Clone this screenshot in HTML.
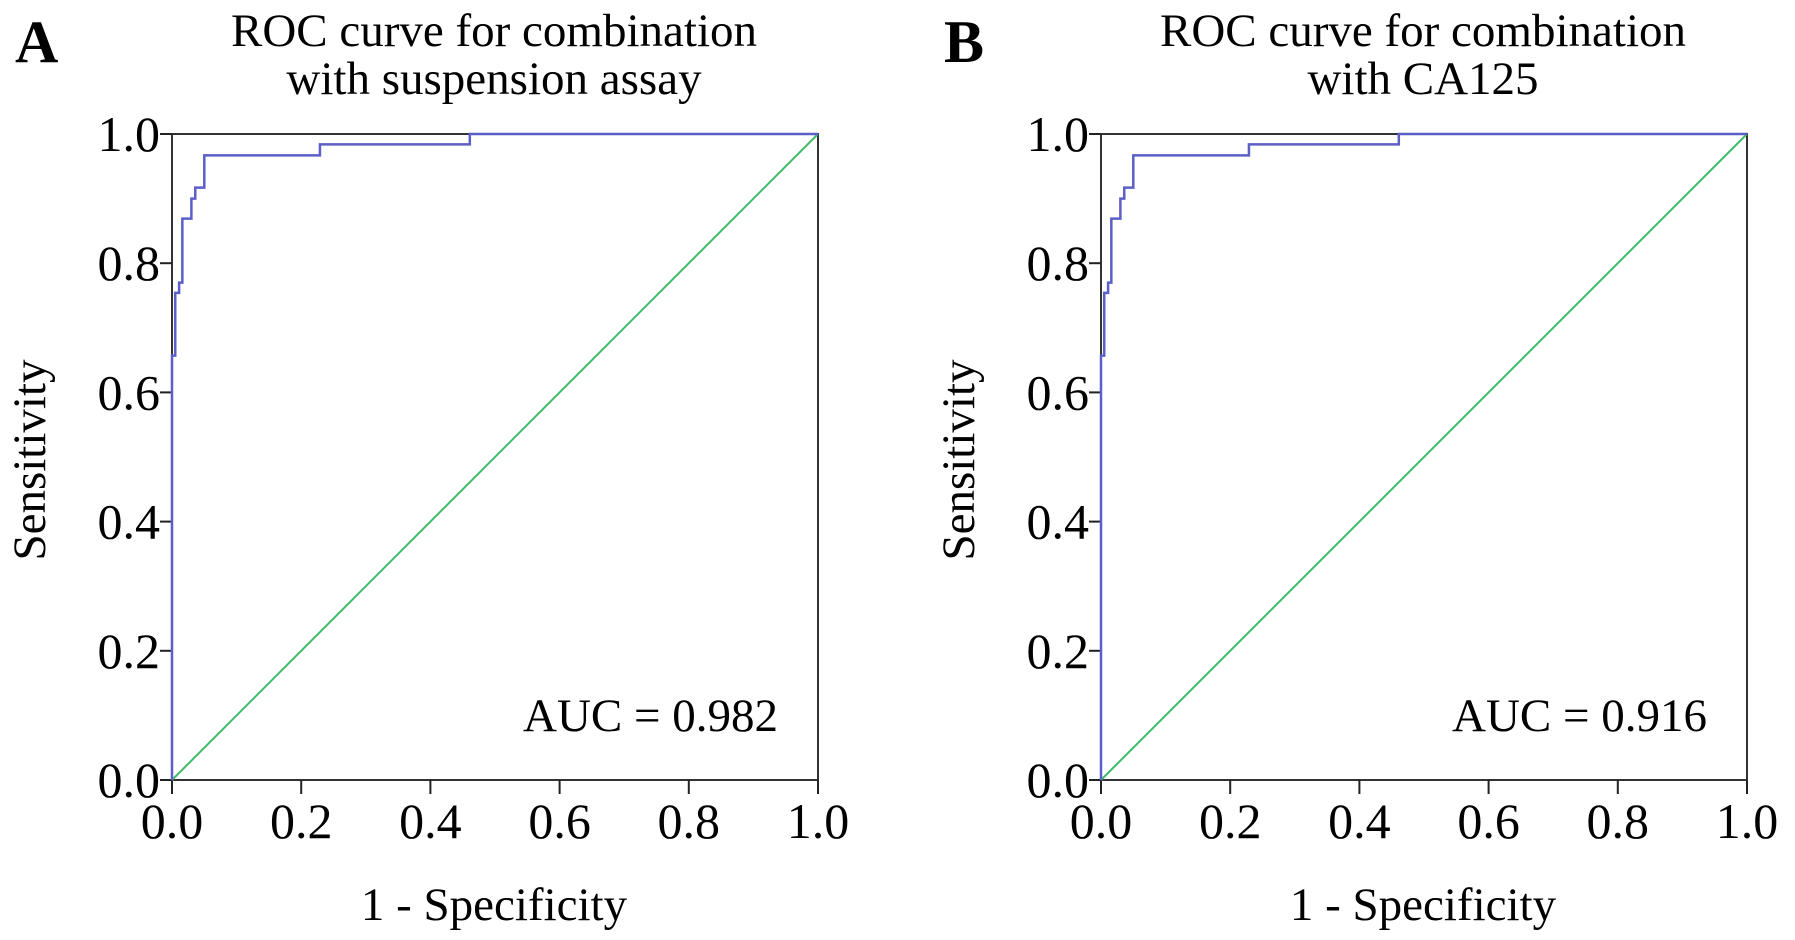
<!DOCTYPE html>
<html><head><meta charset="utf-8"><style>
body{margin:0;background:#fff;}
svg{display:block;font-family:"Liberation Serif",serif;}
</style></head><body>
<svg id="fig" width="1795" height="940" viewBox="0 0 1795 940"></svg>
<script>
const fprA = [0,0,0.005,0.005,0.011,0.011,0.016,0.016,0.030,0.030,0.036,0.036,0.050,0.050,0.229,0.229,0.461,0.461,1];
const tprA = [0,0.657,0.657,0.754,0.754,0.770,0.770,0.869,0.869,0.900,0.900,0.917,0.917,0.967,0.967,0.984,0.984,1,1];
const fprB = [0,0,0.005,0.005,0.011,0.011,0.016,0.016,0.030,0.030,0.036,0.036,0.050,0.050,0.229,0.229,0.461,0.461,1];
const tprB = [0,0.657,0.657,0.754,0.754,0.770,0.770,0.869,0.869,0.900,0.900,0.917,0.917,0.967,0.967,0.984,0.984,1,1];
const ticks = [0,0.2,0.4,0.6,0.8,1.0];
const tickLabels = ["0.0","0.2","0.4","0.6","0.8","1.0"];
const aucA = "AUC = 0.982";
const aucB = "AUC = 0.916";

const svg = document.getElementById('fig');
const NS = 'http://www.w3.org/2000/svg';
function mk(tag, attrs, parent){
  const e = document.createElementNS(NS, tag);
  for (const k in attrs) e.setAttribute(k, attrs[k]);
  (parent||svg).appendChild(e);
  return e;
}
function panel(id, x0, letter, t1, t2, fpr, tpr, auc){
  const top = 134, size = 646, bottom = top+size, x1 = x0+size;
  const sx = v => x0 + v*size;
  const sy = v => bottom - v*size;
  const g = mk('g', {});
  
  
  const L = mk('text', {x: x0-157, y: 62, 'font-size': 60, 'font-weight': 'bold'}, g);
  L.textContent = letter;
  
  
  [t1,t2].forEach((t,i)=>{
    const e = mk('text', {x: x0+size/2-1, y: 46+i*48, 'font-size': 47, 'text-anchor': 'middle'}, g);
    e.textContent = t;
    
    
  });
  const frame = mk('rect', {x: x0, y: top, width: size, height: size, fill: 'none', stroke: '#333', 'stroke-width': 2}, g);
  
  
  ticks.forEach((t,i)=>{
    const ty = mk('line', {x1: x0-12, x2: x0, y1: sy(t), y2: sy(t), stroke: '#222', 'stroke-width': 2}, g);
    
    
    const ly = mk('text', {x: x0-12, y: sy(t)+17, 'font-size': 50, 'text-anchor': 'end'}, g);
    ly.textContent = tickLabels[i];
    
    
    const tx = mk('line', {x1: sx(t), x2: sx(t), y1: bottom, y2: bottom+14, stroke: '#222', 'stroke-width': 2}, g);
    
    
    const lx = mk('text', {x: sx(t), y: bottom+58, 'font-size': 50, 'text-anchor': 'middle'}, g);
    lx.textContent = tickLabels[i];
    
    
  });
  const xt = mk('text', {x: x0+size/2-1, y: 920, 'font-size': 47, 'text-anchor': 'middle'}, g);
  xt.textContent = '1 - Specificity';
  
  
  const yt = mk('text', {x: 0, y: 0, 'font-size': 47, 'text-anchor': 'middle', transform: `translate(${x0-127},460) rotate(-90)`}, g);
  yt.textContent = 'Sensitivity';
  
  
  const ref = mk('line', {x1: sx(0), y1: sy(0), x2: sx(1), y2: sy(1), stroke: '#3dbb6a', 'stroke-width': 2}, g);
  
  
  const pts = fpr.map((f,i)=>sx(f)+','+sy(tpr[i])).join(' ');
  const curve = mk('polyline', {points: pts, fill: 'none', stroke: '#5b5fc7', 'stroke-width': 2.5}, g);
  
  
  const a = mk('text', {x: x1-40, y: 731, 'font-size': 47, 'text-anchor': 'end'}, g);
  a.textContent = auc;
  
  
}
panel('a', 172, 'A', 'ROC curve for combination', 'with suspension  assay', fprA, tprA, aucA);
panel('b', 1101, 'B', 'ROC curve for combination', 'with CA125', fprB, tprB, aucB);
</script>
</body></html>
